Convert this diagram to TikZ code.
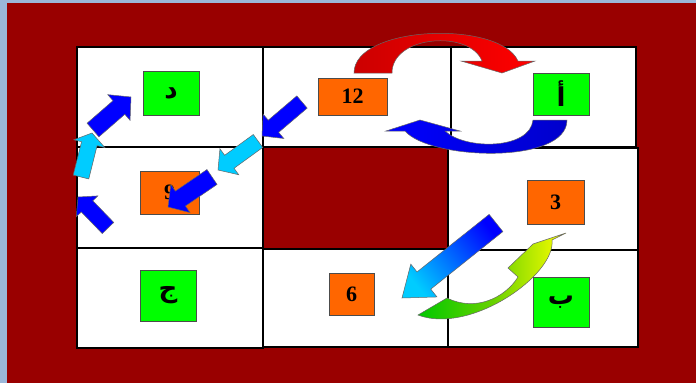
\documentclass[tikz,border=0pt]{standalone}
\usepackage{fontspec}
\setmainfont{Liberation Serif}
\newfontfamily\arabicfont[Script=Arabic]{DejaVu Sans}
\TeXXeTstate=1
\usetikzlibrary{calc}
\definecolor{framebg}{RGB}{155,183,217}
\definecolor{boardred}{RGB}{153,0,0}
\definecolor{boxgreen}{RGB}{0,255,0}
\definecolor{boxorange}{RGB}{255,102,0}
\definecolor{arrowblue}{RGB}{0,0,255}
\definecolor{arrowcyan}{RGB}{0,204,255}
\definecolor{arrowgreen}{RGB}{0,200,0}

\begin{document}
\begin{tikzpicture}[x=1pt, y=-1pt,
  cell/.style={draw=black, line width=1.2pt, fill=white},
  numbox/.style={draw=black!70, line width=0.8pt, fill=boxorange, inner sep=0pt,
    font=\fontsize{22}{22}\selectfont\bfseries},
  letbox/.style={draw=black!70, line width=0.8pt, fill=boxgreen, inner sep=0pt,
    font=\fontsize{26}{26}\arabicfont\bfseries},
  arrowline/.style={draw=black!60, line width=0.5pt, line join=miter}]
  \useasboundingbox (0,0) rectangle (696,383);
  % frame and board
  \fill[framebg] (0,0) rectangle (696,383);
  \fill[boardred] (7,3) rectangle (696,383);
  \foreach \xa/\ya/\xb/\yb in {77/47/263/147, 263/47/451/147, 451/47/636/147,
      77/147/263/248, 448/148/638/250,
      77/248/263/348, 263/249/448/347, 448/250/638/347}
    \draw[cell] (\xa,\ya) rectangle (\xb,\yb);

  % squares
  \node[letbox, minimum width=56pt, minimum height=44pt] (dal) at (171,93) {\beginR د\endR};
  \node[numbox, minimum width=69pt, minimum height=37pt] (n12) at (352.5,96.5) {12};
  \node[letbox, minimum width=56pt, minimum height=42pt] (alif) at (561,94) {\beginR أ\endR};
  \node[numbox, minimum width=59pt, minimum height=43pt] (n9) at (169.5,192.5) {9};
  \node[numbox, minimum width=57pt, minimum height=44pt] (n3) at (555.5,202) {3};
  \node[letbox, minimum width=56pt, minimum height=51pt] (jim) at (168,295.5) {\beginR ج\endR};
  \node[numbox, minimum width=45pt, minimum height=42pt] (n6) at (351.5,294) {6};
  \node[letbox, minimum width=56pt, minimum height=50pt] (ba) at (561,302) {\beginR ب\endR};

  % block arrows
  \foreach \sx/\sy/\ex/\ey/\w/\h/\l/\col in {302/102/262/136/8/16/15/arrowblue,
      258/141/218/170/8/16/14/arrowcyan, 212/177/168/207/9/17/15/arrowblue,
      108/228/78/197/8/15/13/arrowblue, 81/177/92/133/8/16/11/arrowcyan,
      93/130/131/97/9/17/16/arrowblue} {
    \coordinate (s) at (\sx,\sy);
    \coordinate (e) at (\ex,\ey);
    \coordinate (m) at ($(e)!\l pt!(s)$);
    \draw[arrowline, fill=\col] ($(s)!\w pt!90:(e)$) -- ($(m)!\w pt!90:(e)$)
      -- ($(m)!\h pt!90:(e)$) -- (e) -- ($(m)!\h pt!-90:(e)$)
      -- ($(m)!\w pt!-90:(e)$) -- ($(s)!\w pt!-90:(e)$) -- cycle;
  }
  \coordinate (gs) at (496,223);
  \coordinate (ge) at (402,298);
  \coordinate (gm) at ($(ge)!28pt!(gs)$);
  \shadedraw[arrowline, top color=arrowblue, bottom color=arrowcyan, shading angle=-51]
    ($(gs)!11pt!90:(ge)$) -- ($(gm)!11pt!90:(ge)$) -- ($(gm)!21pt!90:(ge)$) -- (ge)
    -- ($(gm)!21pt!-90:(ge)$) -- ($(gm)!11pt!-90:(ge)$) -- ($(gs)!11pt!-90:(ge)$) -- cycle;

  % curved arrows
  \shadedraw[arrowline, left color=red!80!black, right color=red]
    (354,73) .. controls (354,25) and (500,20) .. (518,61) -- (535,61) -- (502,73)
    -- (461,61) -- (482,61) .. controls (470,30) and (392,35) .. (392,73) -- cycle;
  \shadedraw[arrowline, left color=arrowblue, right color=blue!80!black]
    (533,120) .. controls (530,150) and (465,150) .. (445,131) -- (460,131)
    -- (420,120) -- (386,131) -- (405,131) .. controls (430,160) and (567,165) .. (567,120) -- cycle;
  \shadedraw[arrowline, left color=arrowgreen, right color=yellow, middle color=green!70!black!60!yellow]
    (418,315) -- (447,298) .. controls (475,312) and (505,298) .. (518,277) -- (508,268)
    -- (533,244) -- (566,233) -- (552,240) .. controls (556,275) and (470,335) .. (418,315) -- cycle;
\end{tikzpicture}
\end{document}
